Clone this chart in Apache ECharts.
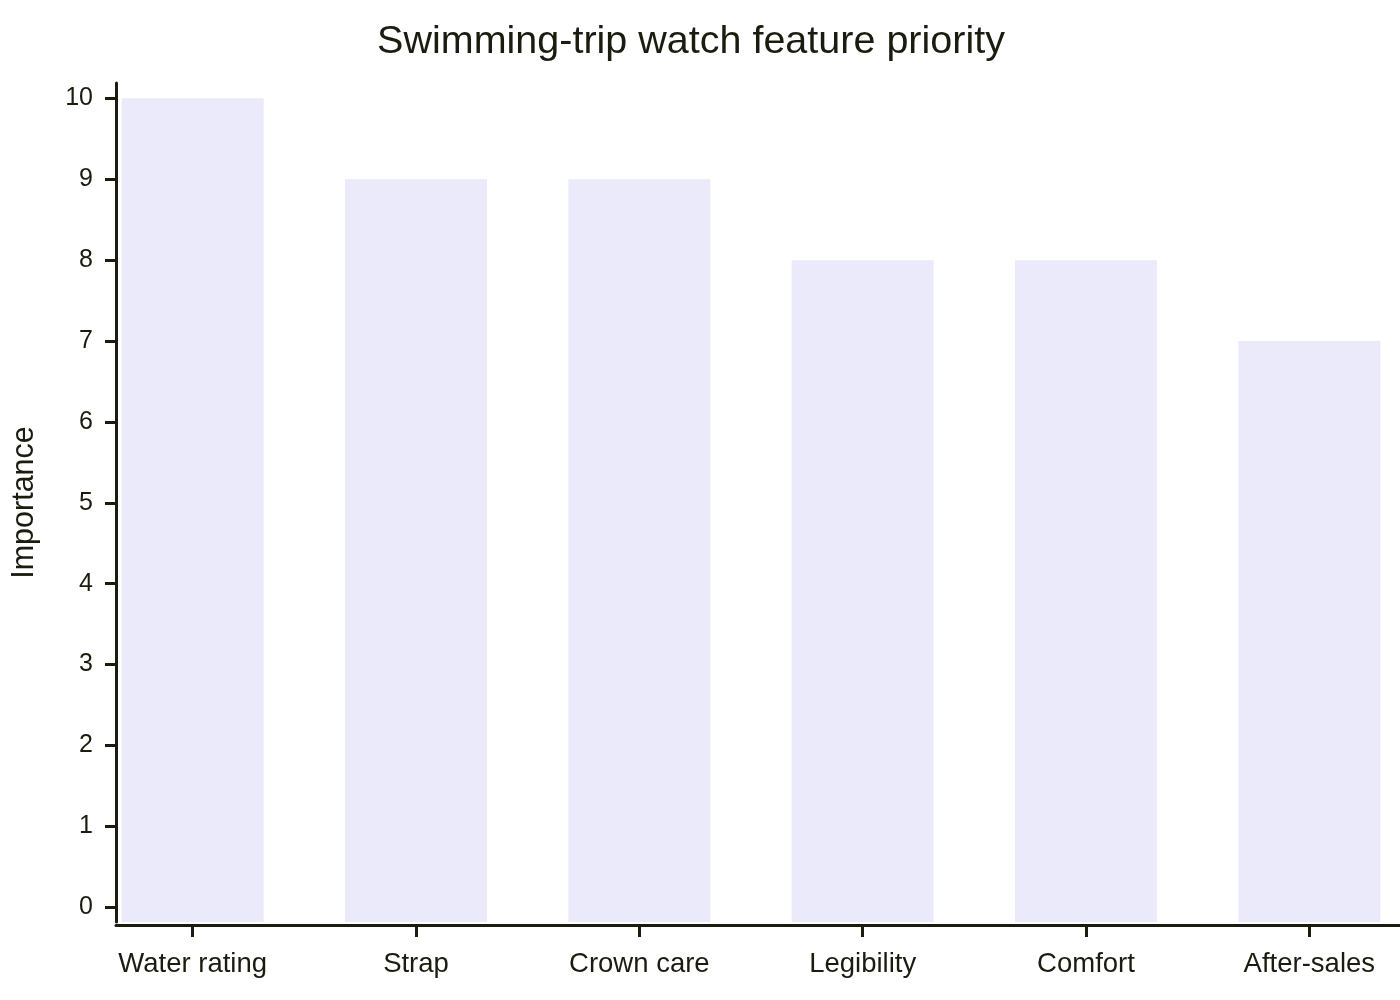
<!DOCTYPE html>
<html>
<head>
<meta charset="utf-8">
<title>Swimming-trip watch feature priority</title>
<script src="https://cdn.jsdelivr.net/npm/echarts@6/dist/echarts.min.js"></script>
<style>
  html, body { margin: 0; padding: 0; background: #fff; }
  #main { width: 1400px; height: 1000px; }
</style>
</head>
<body>
<div id="main"></div>
<script>
// data
var features = ['Water rating', 'Strap', 'Crown care', 'Legibility', 'Comfort', 'After-sales'];
var importance = [10, 9, 9, 8, 8, 7];
var yTicks = [0, 1, 2, 3, 4, 5, 6, 7, 8, 9, 10];

var ink = '#1b1b0f';
var font = '"Liberation Sans", Arial, sans-serif';
var yMin = -0.182, yMax = 10.19;

var chart = echarts.init(document.getElementById('main'));

chart.setOption({
  backgroundColor: '#fff',
  animation: false,
  title: {
    text: 'Swimming-trip watch feature priority',
    left: 686,
    textAlign: 'center',
    top: 17,
    textStyle: { fontFamily: font, fontSize: 39.5, fontWeight: 'normal', color: ink }
  },
  grid: [
    // bars + category labels (band runs past the right edge, like the original)
    { left: 81, width: 1340, top: 83, bottom: 78, outerBoundsMode: 'none' },
    // visible frame: y axis and bottom line
    { left: 116, right: 0, top: 83, bottom: 78, outerBoundsMode: 'none' }
  ],
  xAxis: [
    {
      type: 'category',
      gridIndex: 0,
      data: features,
      offset: 3,
      axisLine: { show: false, onZero: false },
      axisTick: { show: true, alignWithLabel: true, length: 12, lineStyle: { color: ink, width: 3 } },
      axisLabel: { margin: 25, color: ink, fontFamily: font, fontSize: 27.5 },
      splitLine: { show: false }
    },
    {
      type: 'value',
      gridIndex: 1,
      offset: 3,
      axisLine: { show: true, onZero: false, lineStyle: { color: ink, width: 3 } },
      axisTick: { show: false },
      axisLabel: { show: false },
      splitLine: { show: false }
    }
  ],
  yAxis: [
    {
      type: 'value',
      gridIndex: 0,
      min: yMin,
      max: yMax,
      startValue: yMin,
      show: false,
      splitLine: { show: false }
    },
    {
      type: 'value',
      gridIndex: 1,
      min: yMin,
      max: yMax,
      name: 'Importance',
      nameLocation: 'middle',
      nameGap: 76,
      nameTextStyle: { fontFamily: font, fontSize: 30.5, color: ink },
      axisLine: { show: true, onZero: false, lineStyle: { color: ink, width: 3 } },
      axisTick: { show: true, length: 11, customValues: yTicks, lineStyle: { color: ink, width: 3 } },
      axisLabel: { margin: 23, customValues: yTicks, color: ink, fontFamily: font, fontSize: 25 },
      splitLine: { show: false }
    }
  ],
  series: [{
    type: 'bar',
    xAxisIndex: 0,
    yAxisIndex: 0,
    data: importance,
    barWidth: 142,
    itemStyle: { color: '#eaeafb' }
  }]
});
</script>
</body>
</html>
